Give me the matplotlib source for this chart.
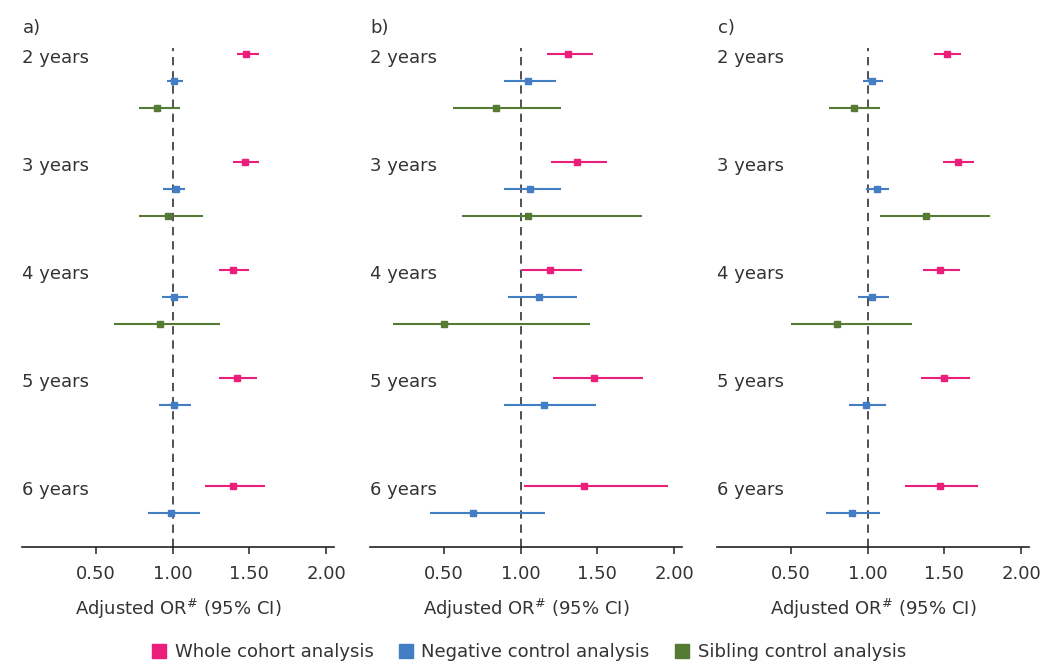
import numpy as np
import matplotlib
matplotlib.use("Agg")
import matplotlib.pyplot as plt
import matplotlib.transforms as mtransforms
from matplotlib.lines import Line2D

plt.rcParams['font.family'] = ['DejaVu Sans']

# Data: odds ratio and 95% CI per panel, age group, analysis
years = ["2 years", "3 years", "4 years", "5 years", "6 years"]
panels = ["a)", "b)", "c)"]
analyses = ["Whole cohort analysis", "Negative control analysis", "Sibling control analysis"]
colors = ["#EC1E7C", "#437EC4", "#557A33"]

# panel a
a_whole = [1.48, 1.47, 1.39, 1.42, 1.39]
a_whole_lo = [1.42, 1.39, 1.30, 1.30, 1.21]
a_whole_hi = [1.56, 1.56, 1.50, 1.55, 1.60]
a_neg = [1.01, 1.02, 1.01, 1.01, 0.99]
a_neg_lo = [0.96, 0.94, 0.93, 0.91, 0.84]
a_neg_hi = [1.07, 1.08, 1.10, 1.12, 1.18]
a_sib = [0.90, 0.97, 0.92, np.nan, np.nan]
a_sib_lo = [0.78, 0.78, 0.62, np.nan, np.nan]
a_sib_hi = [1.05, 1.20, 1.31, np.nan, np.nan]

# panel b
b_whole = [1.31, 1.37, 1.19, 1.48, 1.41]
b_whole_lo = [1.17, 1.20, 1.01, 1.21, 1.02]
b_whole_hi = [1.47, 1.56, 1.40, 1.80, 1.96]
b_neg = [1.05, 1.06, 1.12, 1.15, 0.69]
b_neg_lo = [0.89, 0.89, 0.92, 0.89, 0.41]
b_neg_hi = [1.23, 1.26, 1.37, 1.49, 1.16]
b_sib = [0.84, 1.05, 0.50, np.nan, np.nan]
b_sib_lo = [0.56, 0.62, 0.17, np.nan, np.nan]
b_sib_hi = [1.26, 1.79, 1.45, np.nan, np.nan]

# panel c
c_whole = [1.52, 1.59, 1.47, 1.50, 1.47]
c_whole_lo = [1.43, 1.49, 1.36, 1.35, 1.24]
c_whole_hi = [1.61, 1.69, 1.60, 1.67, 1.72]
c_neg = [1.03, 1.06, 1.03, 0.99, 0.90]
c_neg_lo = [0.97, 0.99, 0.94, 0.88, 0.73]
c_neg_hi = [1.10, 1.14, 1.14, 1.12, 1.08]
c_sib = [0.91, 1.38, 0.80, np.nan, np.nan]
c_sib_lo = [0.75, 1.08, 0.50, np.nan, np.nan]
c_sib_hi = [1.08, 1.80, 1.29, np.nan, np.nan]

panel_data = [
    [(a_whole, a_whole_lo, a_whole_hi), (a_neg, a_neg_lo, a_neg_hi), (a_sib, a_sib_lo, a_sib_hi)],
    [(b_whole, b_whole_lo, b_whole_hi), (b_neg, b_neg_lo, b_neg_hi), (b_sib, b_sib_lo, b_sib_hi)],
    [(c_whole, c_whole_lo, c_whole_hi), (c_neg, c_neg_lo, c_neg_hi), (c_sib, c_sib_lo, c_sib_hi)],
]
xticks = [0.5, 1.0, 1.5, 2.0]
xticklabels = ["0.50", "1.00", "1.50", "2.00"]

W, H = 1058, 662
fig = plt.figure(figsize=(W / 100, H / 100), dpi=100)
txt = "#333333"
fs = 13

lefts = [22.3, 370.3, 717.3]
ax_top, ax_bot = 47.7, 547.3
width = 311.5

for p, (left, label, data) in enumerate(zip(lefts, panels, panel_data)):
    ax = fig.add_axes([left / W, 1 - ax_bot / H, width / W, (ax_bot - ax_top) / H])
    trans = mtransforms.blended_transform_factory(ax.transAxes, ax.transData)
    for k, (est, lo, hi) in enumerate(data):
        est = np.array(est)
        lo = np.array(lo)
        hi = np.array(hi)
        ypos = np.arange(len(years)) * 4 + k
        ok = ~np.isnan(est)
        ax.hlines(ypos[ok], lo[ok], hi[ok], color=colors[k], lw=1.5, zorder=2)
        ax.plot(est[ok], ypos[ok], 's', color=colors[k], ms=4, zorder=3)
    ax.axvline(1.0, color="#333333", lw=1.2, ls=(0, (5, 3.5)), zorder=1)
    for g, yr in enumerate(years):
        ax.text(0, g * 4 + 0.34, yr, transform=trans, ha="left", va="baseline",
                fontsize=fs, color=txt)
    ax.set_xlim(0.02, 2.05)
    ax.set_ylim(18.26, -0.23)
    ax.set_yticks([])
    for s in ["left", "right", "top"]:
        ax.spines[s].set_visible(False)
    ax.spines["bottom"].set_color("#222222")
    ax.spines["bottom"].set_linewidth(1.2)
    ax.set_xticks(xticks)
    ax.set_xticklabels(xticklabels)
    ax.tick_params(axis="x", length=5, width=1.1, color="#222222",
                   labelsize=fs, labelcolor=txt, pad=8)
    ax.set_xlabel("Adjusted OR$^{\\#}$ (95% CI)", fontsize=fs, color=txt, labelpad=10)
    fig.text((left + 0.5) / W, 1 - 28 / H, label, ha="left", va="center",
             fontsize=fs, color=txt)

handles = [Line2D([], [], marker="s", ls="none", color=c, ms=10) for c in colors]
fig.legend(handles, analyses, loc="center", bbox_to_anchor=(0.5, 1 - 652 / H),
           ncol=3, frameon=False, fontsize=fs, handlelength=0.8,
           handletextpad=0.45, columnspacing=1.4, labelcolor=txt)

fig.savefig("out.png", dpi=100)
